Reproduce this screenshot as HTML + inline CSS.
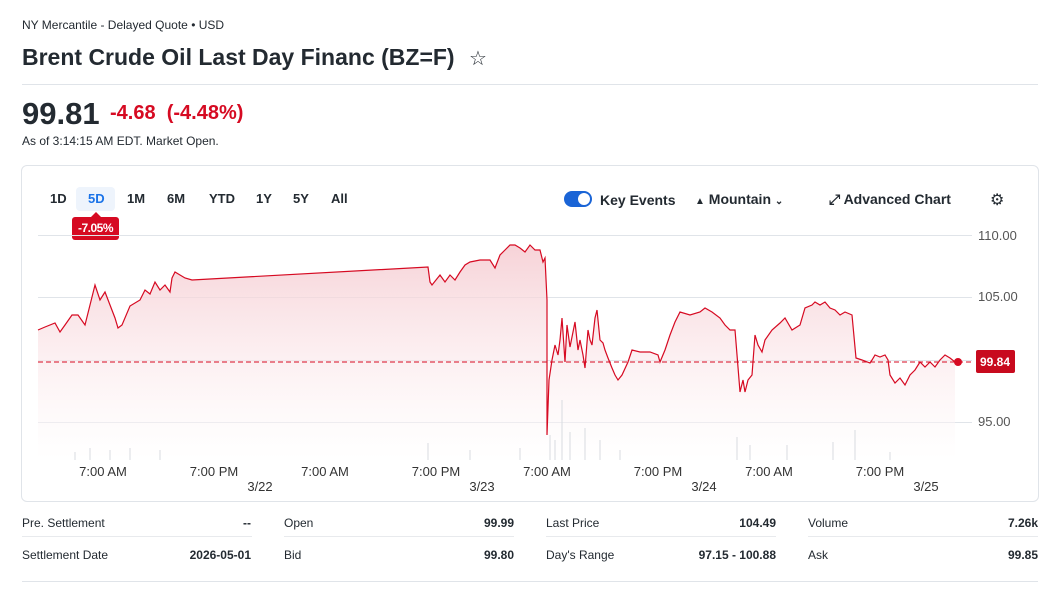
<!DOCTYPE html>
<html><head><meta charset="utf-8"><style>
body{margin:0;width:1054px;height:595px;background:#fff;font-family:"Liberation Sans",sans-serif;color:#232a31;position:relative;overflow:hidden}
.a{position:absolute;white-space:nowrap}
.hr{position:absolute;left:22px;width:1016px;height:1px;background:#e0e4e9}
.tab{position:absolute;top:191px;font-size:13px;font-weight:bold;color:#232a31}
.st{position:absolute;font-size:12px}
.sv{position:absolute;font-size:12px;font-weight:bold;text-align:right}
.dl{position:absolute;height:1px;background:#e8eaed}
</style></head><body>
<div class="a" style="left:22px;top:18px;font-size:12px">NY Mercantile - Delayed Quote • USD</div>
<div class="a" style="left:22px;top:44px;font-size:23px;font-weight:bold">Brent Crude Oil Last Day Financ (BZ=F) <span style="font-weight:normal;font-size:20px;margin-left:8px">☆</span></div>
<div class="hr" style="top:84px"></div>
<div class="a" style="left:22px;top:96px;font-size:31px;font-weight:bold">99.81</div>
<div class="a" style="left:110px;top:102px;font-size:20px;font-weight:bold;color:#d60a22">-4.68 &nbsp;(-4.48%)</div>
<div class="a" style="left:22px;top:134px;font-size:12px">As of 3:14:15 AM EDT. Market Open.</div>
<div style="position:absolute;left:21px;top:165px;width:1016px;height:335px;border:1px solid #e0e4e9;border-radius:6px"></div>
<div class="tab" style="left:50px">1D</div>
<div style="position:absolute;left:76px;top:187px;width:39px;height:24px;background:#eef4fc;border-radius:4px"></div>
<div class="tab" style="left:88px;color:#1a73e8">5D</div>
<div class="tab" style="left:127px">1M</div>
<div class="tab" style="left:167px">6M</div>
<div class="tab" style="left:209px">YTD</div>
<div class="tab" style="left:256px">1Y</div>
<div class="tab" style="left:293px">5Y</div>
<div class="tab" style="left:331px">All</div>
<div style="position:absolute;left:72px;top:217px;width:47px;height:23px;background:#d60a22;border-radius:3px;color:#fff;font-size:12px;font-weight:bold;text-align:center;line-height:23px;letter-spacing:-0.5px">-7.05%</div>
<div style="position:absolute;left:91px;top:212px;width:0;height:0;border-left:5px solid transparent;border-right:5px solid transparent;border-bottom:5px solid #d60a22"></div>
<div style="position:absolute;left:564px;top:191px;width:28px;height:16px;background:#1a64d6;border-radius:8px"><div style="position:absolute;right:2px;top:2px;width:12px;height:12px;border-radius:6px;background:#fff"></div></div>
<div class="a" style="left:600px;top:192px;font-size:14px;font-weight:bold">Key Events</div>
<div class="a" style="left:695px;top:191px;font-size:14px;font-weight:bold"><span style="font-size:10px">▲</span> Mountain <span style="font-size:10px">⌄</span></div>
<div class="a" style="left:829px;top:191px;font-size:14px;font-weight:bold">⤢ Advanced Chart</div>
<div class="a" style="left:990px;top:190px;font-size:16px">⚙</div>
<svg style="position:absolute;left:0;top:0" width="1054" height="595">
<defs><linearGradient id="g" gradientUnits="userSpaceOnUse" x1="0" y1="240" x2="0" y2="460"><stop offset="0" stop-color="#f5c9cf" stop-opacity="0.85"/><stop offset="1" stop-color="#fff" stop-opacity="0.4"/></linearGradient></defs>
<g stroke="#e0e4e9" stroke-width="1"><line x1="38" y1="235.5" x2="972" y2="235.5"/><line x1="38" y1="297.5" x2="972" y2="297.5"/><line x1="38" y1="360.5" x2="972" y2="360.5"/><line x1="38" y1="422.5" x2="972" y2="422.5"/></g>
<g font-size="13" fill="#555"><text x="978" y="240">110.00</text><text x="978" y="301">105.00</text><text x="978" y="426">95.00</text></g>
<polygon fill="url(#g)" points="38,330 45,327 55,323 60,332 65,325 72,315 78,315 85,325 90,305 95,285 100,300 105,292 110,305 115,318 118,328 122,325 130,306 140,300 145,290 150,294 155,282 160,290 165,285 170,292 172,278 175,272 180,275 185,278 192,280 428,267 430,282 432,285 440,275 445,282 450,275 455,280 460,272 465,265 470,262 480,260 490,260 495,268 500,255 505,250 510,245 515,245 520,248 525,252 530,245 535,250 540,250 543,262 545,258 547,300 547,435 549,380 552,360 555,345 558,355 560,340 562,318 565,362 567,325 570,347 575,322 578,350 580,340 583,355 585,368 588,330 590,340 592,345 595,318 597,310 600,340 603,343 605,350 608,358 612,368 615,375 618,380 622,375 628,362 632,350 640,352 650,352 658,355 660,362 665,350 670,335 675,322 680,312 690,315 700,312 705,308 712,312 720,318 725,325 730,330 735,330 740,392 743,380 745,392 748,380 752,375 755,335 758,345 762,352 765,340 772,330 780,323 785,318 792,330 800,325 805,308 812,305 815,302 820,305 825,302 830,308 835,310 840,315 845,312 852,315 856,358 862,360 870,363 872,360 875,355 880,357 885,355 888,360 890,375 895,383 900,378 905,385 910,375 915,370 920,362 925,367 930,362 935,367 940,360 945,355 950,358 955,362 955,460 38,460"/>
<polyline fill="none" stroke="#d60a22" stroke-width="1.2" points="38,330 45,327 55,323 60,332 65,325 72,315 78,315 85,325 90,305 95,285 100,300 105,292 110,305 115,318 118,328 122,325 130,306 140,300 145,290 150,294 155,282 160,290 165,285 170,292 172,278 175,272 180,275 185,278 192,280 428,267 430,282 432,285 440,275 445,282 450,275 455,280 460,272 465,265 470,262 480,260 490,260 495,268 500,255 505,250 510,245 515,245 520,248 525,252 530,245 535,250 540,250 543,262 545,258 547,300 547,435 549,380 552,360 555,345 558,355 560,340 562,318 565,362 567,325 570,347 575,322 578,350 580,340 583,355 585,368 588,330 590,340 592,345 595,318 597,310 600,340 603,343 605,350 608,358 612,368 615,375 618,380 622,375 628,362 632,350 640,352 650,352 658,355 660,362 665,350 670,335 675,322 680,312 690,315 700,312 705,308 712,312 720,318 725,325 730,330 735,330 740,392 743,380 745,392 748,380 752,375 755,335 758,345 762,352 765,340 772,330 780,323 785,318 792,330 800,325 805,308 812,305 815,302 820,305 825,302 830,308 835,310 840,315 845,312 852,315 856,358 862,360 870,363 872,360 875,355 880,357 885,355 888,360 890,375 895,383 900,378 905,385 910,375 915,370 920,362 925,367 930,362 935,367 940,360 945,355 950,358 955,362"/>
<line x1="38" y1="362" x2="972" y2="362" stroke="#d60a22" stroke-dasharray="5,3" stroke-width="1"/>
<circle cx="958" cy="362" r="4" fill="#d60a22"/>
<g stroke="#d8dbe0" stroke-width="1">
<line x1="75" y1="460" x2="75" y2="452"/><line x1="90" y1="460" x2="90" y2="448"/><line x1="110" y1="460" x2="110" y2="450"/><line x1="130" y1="460" x2="130" y2="448"/><line x1="160" y1="460" x2="160" y2="450"/>
<line x1="428" y1="460" x2="428" y2="443"/><line x1="470" y1="460" x2="470" y2="450"/><line x1="520" y1="460" x2="520" y2="448"/><line x1="550" y1="460" x2="550" y2="435"/><line x1="555" y1="460" x2="555" y2="440"/><line x1="562" y1="460" x2="562" y2="400"/><line x1="570" y1="460" x2="570" y2="432"/><line x1="585" y1="460" x2="585" y2="428"/><line x1="600" y1="460" x2="600" y2="440"/><line x1="620" y1="460" x2="620" y2="450"/><line x1="737" y1="460" x2="737" y2="437"/><line x1="750" y1="460" x2="750" y2="445"/><line x1="787" y1="460" x2="787" y2="445"/><line x1="833" y1="460" x2="833" y2="442"/><line x1="855" y1="460" x2="855" y2="430"/><line x1="890" y1="460" x2="890" y2="452"/>
</g>
<g font-size="13" fill="#333" text-anchor="middle"><text x="103" y="476">7:00 AM</text><text x="214" y="476">7:00 PM</text><text x="325" y="476">7:00 AM</text><text x="436" y="476">7:00 PM</text><text x="547" y="476">7:00 AM</text><text x="658" y="476">7:00 PM</text><text x="769" y="476">7:00 AM</text><text x="880" y="476">7:00 PM</text>
<text x="260" y="491">3/22</text><text x="482" y="491">3/23</text><text x="704" y="491">3/24</text><text x="926" y="491">3/25</text></g>
<rect x="976" y="350" width="39" height="23" rx="2" fill="#c80a1e"/><text x="995" y="366" font-size="12" font-weight="bold" fill="#fff" text-anchor="middle">99.84</text>
</svg>
<div class="st" style="left:22px;top:516px">Pre. Settlement</div><div class="sv" style="left:150px;width:101px;top:516px">--</div>
<div class="st" style="left:284px;top:516px">Open</div><div class="sv" style="left:410px;width:104px;top:516px">99.99</div>
<div class="st" style="left:546px;top:516px">Last Price</div><div class="sv" style="left:670px;width:106px;top:516px">104.49</div>
<div class="st" style="left:808px;top:516px">Volume</div><div class="sv" style="left:930px;width:108px;top:516px">7.26k</div>
<div class="st" style="left:22px;top:548px">Settlement Date</div><div class="sv" style="left:150px;width:101px;top:548px">2026-05-01</div>
<div class="st" style="left:284px;top:548px">Bid</div><div class="sv" style="left:410px;width:104px;top:548px">99.80</div>
<div class="st" style="left:546px;top:548px">Day's Range</div><div class="sv" style="left:650px;width:126px;top:548px">97.15 - 100.88</div>
<div class="st" style="left:808px;top:548px">Ask</div><div class="sv" style="left:930px;width:108px;top:548px">99.85</div>
<div class="dl" style="left:22px;width:230px;top:536px"></div><div class="dl" style="left:284px;width:230px;top:536px"></div><div class="dl" style="left:546px;width:230px;top:536px"></div><div class="dl" style="left:808px;width:230px;top:536px"></div>
<div class="hr" style="top:581px"></div>
</body></html>
